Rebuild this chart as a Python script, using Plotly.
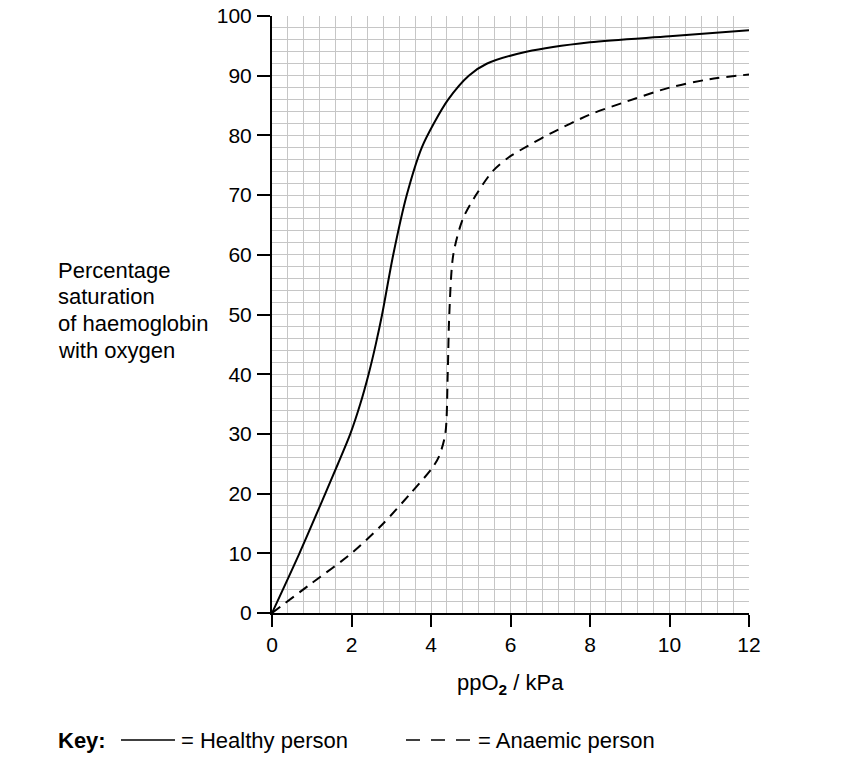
"""Oxygen dissociation curves: healthy vs anaemic person."""

import plotly.graph_objects as go

# values
healthy_ppo2 = [0, 0.69, 1.34, 1.66, 1.97, 2.22, 2.43, 2.61, 2.77, 3.05, 3.39, 3.77, 4.07,
                4.43, 4.95, 5.4, 6.4, 8.0, 10.0, 12.0]
healthy_sat = [0, 10, 20, 25, 30, 35, 40, 45, 50, 60, 70, 78, 82,
               86, 90, 92, 94, 95.6, 96.6, 97.6]

anaemic_ppo2 = [0, 1.0, 2.0, 2.8, 3.48, 4.02, 4.2, 4.36, 4.42, 4.46, 4.56, 4.8,
                5.13, 5.55, 5.95, 6.45, 7.0, 8.0, 8.8, 10.0, 11.0, 12.0]
anaemic_sat = [0, 5, 10, 15, 20, 24.2, 26.2, 30, 40, 50, 60, 66,
               70, 74, 76.3, 78.3, 80.3, 83.5, 85.4, 88, 89.4, 90.2]

x_ticks = [0, 2, 4, 6, 8, 10, 12]
y_ticks = [0, 10, 20, 30, 40, 50, 60, 70, 80, 90, 100]

y_title_lines = ["Percentage", "saturation", "of haemoglobin", "with oxygen"]

FONT = "Liberation Sans, Arial, sans-serif"
GRID = "#c6c6c6"
TICK_SIZE = 21
TEXT_SIZE = 22

# plot area in page pixels; the page body adds an 8px margin
W, H = 850, 758
OFF = 8
L, R, T, B = 272, 749, 16, 613


def px(x):
    return (x - L) / (R - L)


def py(y):
    return (B - y) / (B - T)


fig = go.Figure()
fig.add_trace(go.Scatter(
    x=healthy_ppo2, y=healthy_sat, mode="lines", name="Healthy person",
    line=dict(color="black", width=2, shape="spline", smoothing=0.8),
))
fig.add_trace(go.Scatter(
    x=anaemic_ppo2, y=anaemic_sat, mode="lines", name="Anaemic person",
    line=dict(color="black", width=2, shape="spline", smoothing=0.8, dash="10px,7px"),
))

fig.update_xaxes(
    range=[0, 12], tickvals=x_ticks, ticks="outside", ticklen=12, tickwidth=2, tickcolor="black",
    showline=True, linecolor="black", linewidth=2, showgrid=True, gridcolor=GRID, gridwidth=1.3,
    minor=dict(dtick=0.4, showgrid=True, gridcolor=GRID, gridwidth=1.3),
    zeroline=False, tickfont=dict(size=TICK_SIZE, color="black", family=FONT),
    ticklabeloverflow="allow", automargin=False,
)
fig.update_yaxes(
    range=[0, 100], tickvals=y_ticks, ticks="outside", ticklen=13, tickwidth=2, tickcolor="black",
    showline=True, linecolor="black", linewidth=2, showgrid=True, gridcolor=GRID, gridwidth=1.3,
    minor=dict(dtick=2, showgrid=True, gridcolor=GRID, gridwidth=1.3),
    zeroline=False, tickfont=dict(size=TICK_SIZE, color="black", family=FONT), ticklabelstandoff=1,
    ticklabeloverflow="allow", automargin=False,
)

annotations = [
    dict(x=px(510), y=py(684), text="ppO<sub><b>2</b></sub> / kPa", xanchor="center", yanchor="middle"),
    dict(x=px(56), y=py(740), text="<b>Key:</b>", xanchor="left", yanchor="middle"),
    dict(x=px(179), y=py(740), text="= Healthy person", xanchor="left", yanchor="middle"),
    dict(x=px(476), y=py(740), text="= Anaemic person", xanchor="left", yanchor="middle"),
]
# y-axis title, one line at a time to match the tighter line spacing
for i, line in enumerate(y_title_lines):
    annotations.append(dict(x=px(56), y=py(270 + i * 26.7), text=line,
                            xanchor="left", yanchor="middle", align="left"))
for a in annotations:
    a.update(xref="paper", yref="paper", showarrow=False,
             font=dict(size=TEXT_SIZE, color="black", family=FONT))

shapes = [
    dict(type="line", x0=px(121), x1=px(175), y0=py(740), y1=py(740),
         line=dict(color="black", width=1.5)),
    dict(type="line", x0=px(406), x1=px(470), y0=py(740), y1=py(740),
         line=dict(color="black", width=1.5, dash="14px,11px")),
]
for s in shapes:
    s.update(xref="paper", yref="paper")

fig.update_layout(
    width=W, height=H,
    margin=dict(l=L - OFF, r=W - R + OFF, t=T - OFF, b=H - B + OFF),
    plot_bgcolor="white", paper_bgcolor="white",
    showlegend=False,
    annotations=annotations, shapes=shapes,
    font=dict(family=FONT, color="black"),
)

fig.write_html("out.html")
